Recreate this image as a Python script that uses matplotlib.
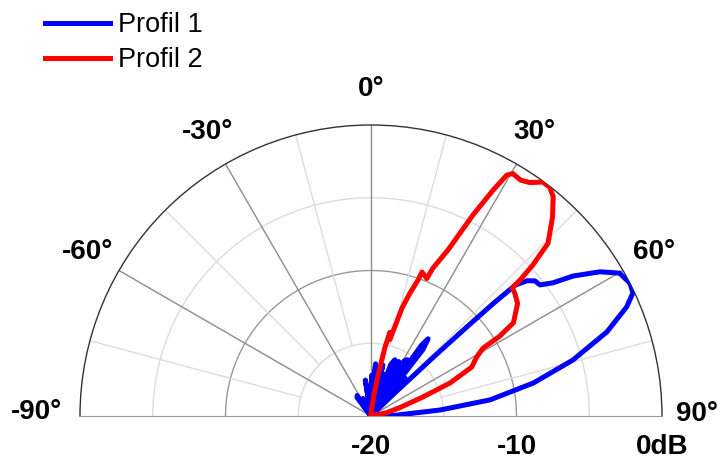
import numpy as np
import matplotlib
matplotlib.use("Agg")
import matplotlib.pyplot as plt

plt.rcParams['font.family'] = ['Liberation Sans', 'DejaVu Sans']

# Profil 1 (blue): angle in degrees, level in dB
theta1 = [-90, -50, -42, -37, -34, -31, -28, -25, -22, -12, -9, -6, -3, -1,
          1, 3, 5, 7, 9, 11, 13, 15, 17, 19, 21, 23, 25, 27, 29, 31, 32.7, 34,
          35.5, 36.5, 38, 40, 42, 44, 46, 46.7, 47.1, 47.4, 47.8, 49.1,
          50.5, 52.2, 53.8, 55.3, 57.8, 60.1, 62.8, 64.8, 66.9, 70.4, 74.5,
          78.5, 82.3, 85, 88, 90]
db1 = [-20, -20, -19.8, -18.4, -18.3, -19.8, -20, -18.7, -20, -20, -17.5,
       -19.5, -18.2, -20, -17.2, -19.8, -16.4, -19.6, -16.8, -20, -16.4,
       -19.5, -17.0, -20, -16.2, -15.8, -19.8, -15.8, -20, -15.6, -15.4,
       -19.5, -14.0, -13.4, -14.2, -19.2, -16.5, -19.6, -17.5, -14.0, -11.0,
       -8.5, -6.6, -5.8, -5.4, -5.3, -4.5, -3.1, -1.4, -0.3, 0.0, -0.1, -0.9,
       -2.8, -5.6, -8.6, -11.75, -15.2, -18.2, -19.0]

# Profil 2 (red)
theta2 = [-90, 0, 5, 8, 10, 11.5, 12.7, 13.8, 15, 16, 17.5, 19.1, 19.5, 22.1,
          22.7, 24.9, 26.9, 28.4, 29.4, 30.3, 32.4, 34.2, 36.3, 38.0, 39.7,
          42.4, 45.7, 47.0, 47.6, 47.8, 49.5, 52.5, 56.8, 58.2, 58.8, 60.9,
          64.1, 67.3, 69.9, 74, 78, 90]
db2 = [-20, -20, -19.5, -18.5, -17.0, -15.2, -14.1, -14.6, -13.6, -12.3, -11.2,
       -10.1, -9.5, -9.8, -9.0, -7.4, -4.5, -2.35, -1.0, -0.7, -0.8, -0.6,
       -0.05, -0.05, -0.4, -1.5, -3.0, -4.8, -6.1, -6.9, -7.0, -7.3, -8.3,
       -9.6, -11.0, -11.7, -12.3, -14.1, -16.2, -18.0, -18.9, -20]

labels = ["Profil 1", "Profil 2"]
angle_labels = ["-90°", "-60°", "-30°", "0°", "30°", "60°", "90°"]
angle_pos = [-89.3, -60, -30, 0, 30, 60, 89.6]
angle_r = [3.0, 2.5, 2.5, 2.5, 2.5, 2.5, 2.4]
r_labels = ["-20", "-10", "0dB"]
r_pos = [-20, -10, 0]

fig = plt.figure(figsize=(7.21, 4.63), dpi=100)
# square box; the half disc sits in its middle
ax = fig.add_axes([80 / 721, -98.5 / 463, 582 / 721, 582 / 463],
                  projection="polar")
ax.set_theta_zero_location("N")
ax.set_theta_direction(-1)
ax.set_thetamin(-90)
ax.set_thetamax(90)
ax.set_ylim(-20, 0)
ax.grid(False)
ax.set_yticks([])

# grid rings and spokes
tt = np.deg2rad(np.linspace(-90, 90, 361))
for r, c in [(-15, "#dcdcdc"), (-10, "#999999"), (-5, "#dcdcdc")]:
    ax.plot(tt, np.full_like(tt, r), color=c, lw=1.0, zorder=1)
for a in [-60, -30, 0, 30, 60]:
    ax.plot(np.deg2rad([a, a]), [-20, 0], color="#8c8c8c", lw=1.0, zorder=1)
for a in [-75, -45, -15, 15, 45, 75]:
    ax.plot(np.deg2rad([a, a]), [-15, 0], color="#e2dada", lw=1.0, zorder=1)

ax.set_xticks(np.deg2rad(np.arange(-90, 91, 15)))
ax.set_xticklabels([])
ax.tick_params(axis="x", direction="in", length=7, width=1.2, colors="#222222")
ax.spines["polar"].set_color("#333333")
ax.spines["polar"].set_linewidth(1.0)
ax.spines["start"].set_color("#999999")
ax.spines["end"].set_color("#999999")

ax.plot(np.deg2rad(theta1), db1, color="#0000ff", lw=3.6, label=labels[0],
        zorder=3, solid_joinstyle="round")
ax.plot(np.deg2rad(theta2), db2, color="#ff0000", lw=3.6, label=labels[1],
        zorder=4, solid_joinstyle="round")

for a, rr, s in zip(angle_pos, angle_r, angle_labels):
    ax.text(np.deg2rad(a), rr, s, ha="center", va="center", fontsize=20,
            fontweight="bold", clip_on=False)
for r, s in zip(r_pos, r_labels):
    ax.annotate(s, xy=(np.deg2rad(90), r), xytext=(0, -22),
                textcoords="offset points", ha="center", va="center",
                fontsize=20, fontweight="bold", annotation_clip=False)

fig.legend(loc="upper left", bbox_to_anchor=(45 / 721, 1 - 12 / 463),
           frameon=False, fontsize=19.5, handlelength=2.4, handletextpad=0.3,
           labelspacing=0.35, borderpad=0, borderaxespad=0)

fig.savefig("out.png", dpi=100)
